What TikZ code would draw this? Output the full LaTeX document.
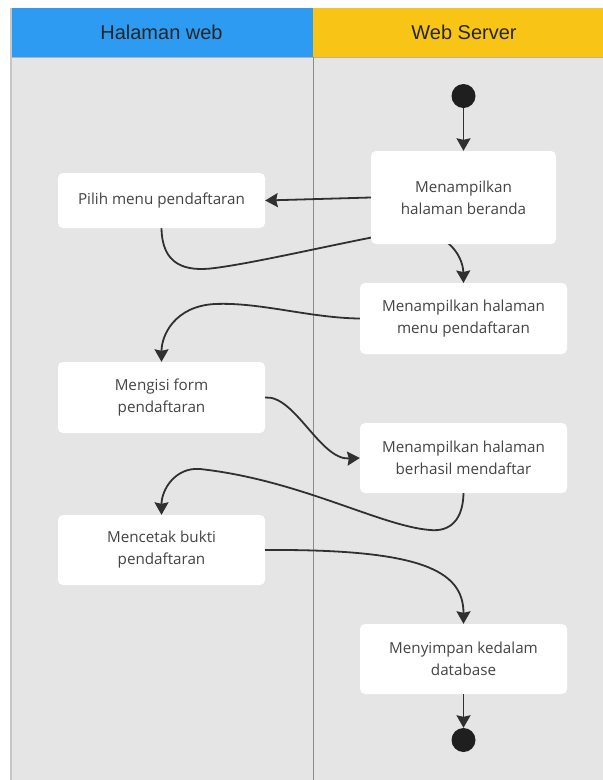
\documentclass[tikz,border=0pt]{standalone}
\usepackage{fontspec}
\setmainfont{Open Sans}
\newfontfamily\headfont{Liberation Sans}
\usetikzlibrary{arrows.meta}
\definecolor{laneblue}{RGB}{45,155,242}
\definecolor{laneyellow}{RGB}{248,196,22}
\definecolor{lanebg}{RGB}{229,229,229}
\definecolor{boxtext}{RGB}{68,68,68}
\definecolor{flowline}{RGB}{48,48,48}
\tikzset{
  actbox/.style={fill=white, rounded corners=5pt, inner sep=0pt, align=center,
    text=boxtext, font=\fontsize{15.2}{22}\selectfont, minimum width=207pt},
  headtext/.style={font=\headfont\fontsize{20}{22}\selectfont, text=black!85},
  dotnode/.style={circle, fill=black!88, minimum size=24pt, inner sep=0pt},
  flow/.style={draw=flowline, line width=1.8pt, -{Stealth[length=12.5pt,width=14pt,inset=1.5pt]}}
}
\begin{document}
\begin{tikzpicture}[x=1pt,y=-1pt]
\useasboundingbox (0,0) rectangle (603,780);
\fill[white] (0,0) rectangle (603,780);
% lanes
\fill[lanebg] (10,57) rectangle (616,790);
\fill[laneblue] (10,8) rectangle (313,57);
\fill[laneyellow] (313,8) rectangle (616,57);
\draw[black!30, line width=0.6pt] (10,57) -- (616,57);
\draw[black!22, line width=1.6pt] (10.8,8) -- (10.8,790);
\draw[black!45, line width=0.8pt] (313,57) -- (313,790);
\node[headtext] (h1) at (161.5,32) {Halaman web};
\node[headtext] (h2) at (464,32) {Web Server};

% nodes
\node[dotnode] (start) at (463.5,96) {};
\node[dotnode] (end) at (463.5,740) {};
\coordinate (c1) at (400,232);
\coordinate (c2) at (215,304);
\coordinate (c3) at (430,530);
\coordinate (c4) at (200,469);

% connector partly hidden behind the first box
\path[flow] (161.5,228) .. controls (162,265) and (185,272) .. (215,268)
   .. controls (260,262) and (330,245) .. (c1)
   .. controls (445,226) and (463,255) .. (463.5,283);

\node[actbox, minimum width=185pt, minimum height=93pt] (beranda) at (463.5,197.5) {Menampilkan\\halaman beranda};
\node[actbox, minimum height=55pt] (pilih) at (161.5,200.5) {Pilih menu pendaftaran};
\node[actbox, minimum height=71pt] (menu) at (463.5,318.5) {Menampilkan halaman\\menu pendaftaran};
\node[actbox, minimum height=71pt] (mengisi) at (161.5,397.5) {Mengisi form\\pendaftaran};
\node[actbox, minimum height=70pt] (berhasil) at (463.5,458) {Menampilkan halaman\\berhasil mendaftar};
\node[actbox, minimum height=70pt] (mencetak) at (161.5,550) {Mencetak bukti\\pendaftaran};
\node[actbox, minimum height=70pt] (db) at (463.5,659) {Menyimpan kedalam\\database};

% connectors
\draw[flow] (start) -- (beranda.north);
\draw[flow] (beranda.west) -- (pilih.east);
\draw[flow] (menu.west) .. controls (310,318) and (260,302) .. (c2)
   .. controls (175,306) and (161.5,335) .. (mengisi.north);
\draw[flow] (mengisi.east) .. controls (295,395) and (320,460) .. (berhasil.west);
\draw[flow] (berhasil.south) .. controls (463,520) and (450,532) .. (c3)
   .. controls (380,526) and (300,480) .. (c4)
   .. controls (175,467) and (161.5,490) .. (mencetak.north);
\draw[flow] (mencetak.east) .. controls (420,549) and (463.5,570) .. (db.north);
\draw[flow] (db.south) -- (end.north);
\end{tikzpicture}
\end{document}
